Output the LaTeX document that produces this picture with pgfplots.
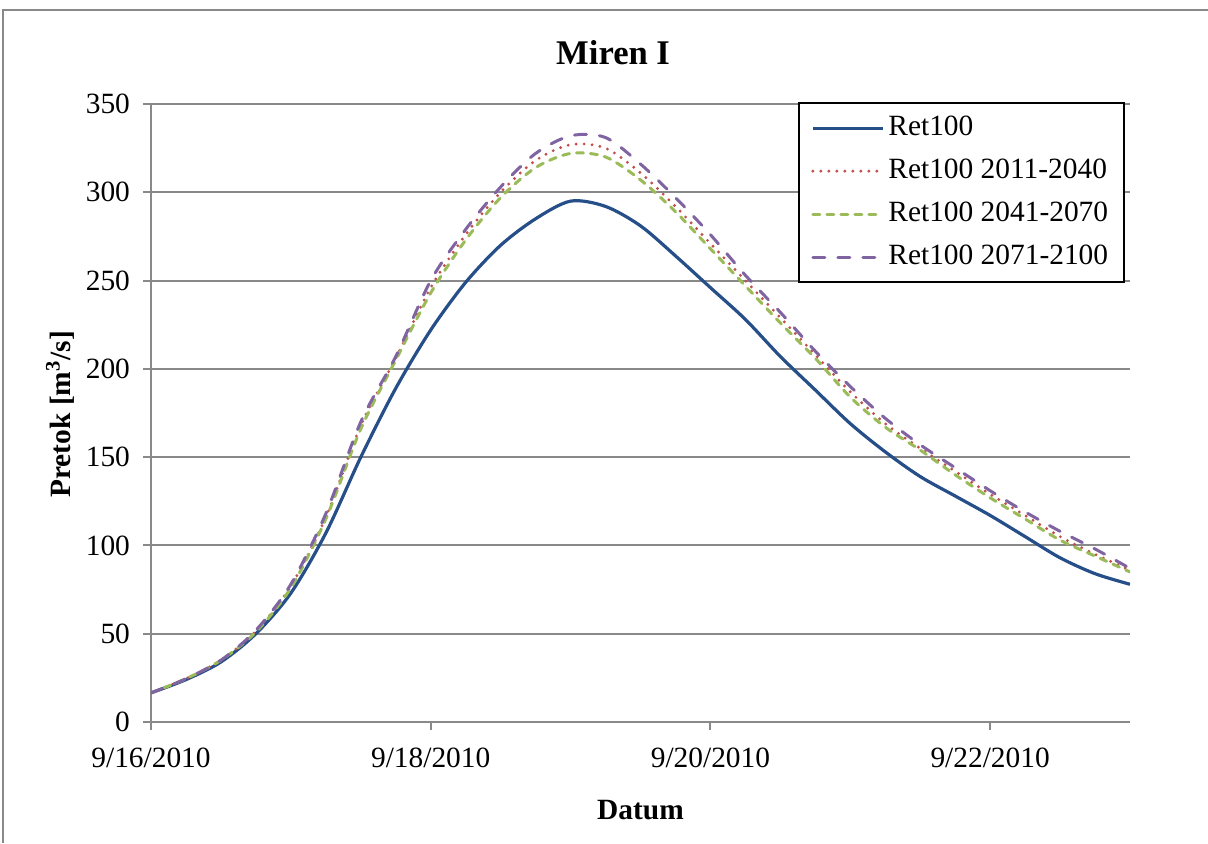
\documentclass[border=0pt]{standalone}
\usepackage{fontspec}
\setmainfont{Liberation Serif}
\usepackage{pgfplots}
\usepackage{pgfplotstable}
\pgfplotsset{compat=1.18}
\definecolor{cblue}{RGB}{38,78,136}
\definecolor{cred}{RGB}{192,80,77}
\definecolor{cgreen}{RGB}{155,187,89}
\definecolor{cpurple}{RGB}{128,100,162}
\definecolor{gridgray}{RGB}{137,137,137}

\pgfplotstableread{
d    r0    r1    r2    r3
0    16.5  16.5  16.5  16.5
0.25 24    24.5  24.5  24.5
0.5  34    35    35    35
0.75 50    51.5  51    52
1.0  73    77    76    78
1.25 107   116   115   118
1.5  150   168   166   170
1.75 189   206   205   207
2.0  222   246   243   250
2.25 249   276   273   279
2.5  270   300   297   303
2.75 285   318   314   322
3.0  295   327   322   332
3.25 292   325   320   331
3.5  281   311   307   316
3.75 264   292   289   297
4.0  246   271   268   276
4.25 228   250   247   253
4.5  207   229   226   232
4.75 188   208   206   210
5.0  169   187   184   190
5.25 153   169   167   172
5.5  139   155   154   157
5.75 128   142   140   144
6.0  117   129   127   131
6.25 105   117   115   119
6.5  93    105   103   108
6.75 84    95    94    98
7.0  78    86    85    87
}\data

\begin{document}
\begin{tikzpicture}[x=1pt,y=1pt]
\useasboundingbox (0,0) rectangle (604,421.5);
\draw[gridgray, line width=1pt] (1.5,0) -- (1.5,416.5) -- (604,416.5);
\begin{axis}[
  at={(75.5pt,60.5pt)}, anchor=south west,
  scale only axis, width=489.5pt, height=309pt,
  xmin=0, xmax=7, ymin=0, ymax=350,
  xtick={0,2,4,6},
  xticklabels={9/16/2010,9/18/2010,9/20/2010,9/22/2010},
  ytick={0,50,...,350},
  /pgf/number format/assume math mode=true,
  axis x line*=bottom, axis y line*=left,
  axis line style={draw=gridgray, line width=1pt, -},
  tick align=outside, major tick length=4pt,
  tick style={draw=gridgray, line width=1pt},
  xtick pos=bottom, ytick pos=left,
  ymajorgrids, major grid style={draw=gridgray, line width=1pt},
  tick label style={font=\fontsize{14.7}{17}\selectfont},
  xticklabel style={yshift=-5.5pt},
  yticklabel style={xshift=-3pt},
  title={Miren I},
  title style={at={(axis description cs:0.472,1.063)}, anchor=center, font=\bfseries\fontsize{17.3}{20}\selectfont},
  xlabel={Datum},
  xlabel style={at={(axis description cs:0.5,-0.142)}, anchor=center, font=\bfseries\fontsize{14.7}{17}\selectfont},
  ylabel={Pretok [m\textsuperscript{3}/s]},
  ylabel style={at={(axis description cs:-0.093,0.498)}, anchor=center, font=\bfseries\fontsize{14.7}{17}\selectfont},
  legend style={at={(0.995,1.003)}, anchor=north east, draw=black, line width=1pt, fill=white,
    font=\fontsize{14.7}{17}\selectfont, row sep=4.5pt, inner xsep=6pt, inner ysep=4pt,
    nodes={inner sep=2pt, text height=10pt, text depth=3pt}},
  legend cell align=left,
  legend image code/.code={\draw[#1] (0pt,0pt) -- (35pt,0pt);},
  every axis plot/.append style={smooth},
]
\addplot[cblue, line width=1.6pt] table[x=d, y=r0] {\data};
\addlegendentry{Ret100}
\addplot[cred, line width=1.6pt, line cap=round, dash pattern=on 0pt off 4pt] table[x=d, y=r1] {\data};
\addlegendentry{Ret100 2011-2040}
\addplot[cgreen, line width=1.5pt, line cap=round, dash pattern=on 3.5pt off 3.5pt] table[x=d, y=r2] {\data};
\addlegendentry{Ret100 2041-2070}
\addplot[cpurple, line width=1.5pt, line cap=round, dash pattern=on 6pt off 6.5pt] table[x=d, y=r3] {\data};
\addlegendentry{Ret100 2071-2100}
\end{axis}
\end{tikzpicture}
\end{document}
